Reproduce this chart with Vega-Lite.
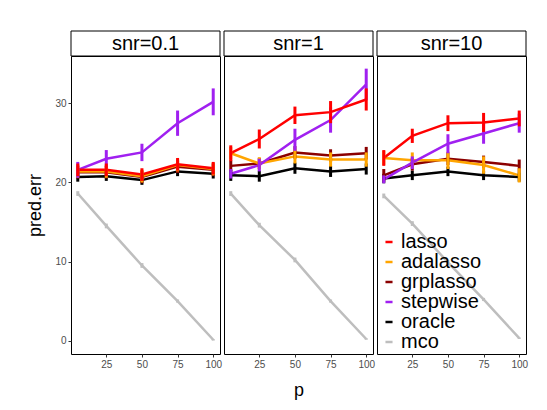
{
  "$schema": "https://vega.github.io/schema/vega-lite/v6.json",
  "padding": {"left": 26, "top": 30, "right": 5, "bottom": 5},
  "config": {
    "font": "Liberation Sans",
    "view": {"stroke": "black", "strokeWidth": 1},
    "concat": {"spacing": 0}
  },
  "datasets": {
    "d": [
      {"snr":"0.1","m":"mco","p":5,"y":18.6,"lo":18.3,"hi":18.9},
      {"snr":"0.1","m":"mco","p":25,"y":14.5,"lo":14.2,"hi":14.8},
      {"snr":"0.1","m":"mco","p":50,"y":9.5,"lo":9.2,"hi":9.8},
      {"snr":"0.1","m":"mco","p":75,"y":5.0,"lo":4.8,"hi":5.2},
      {"snr":"0.1","m":"mco","p":100,"y":0.1,"lo":0.0,"hi":0.2},
      {"snr":"0.1","m":"oracle","p":5,"y":20.7,"lo":20.1,"hi":21.3},
      {"snr":"0.1","m":"oracle","p":25,"y":20.8,"lo":20.2,"hi":21.4},
      {"snr":"0.1","m":"oracle","p":50,"y":20.3,"lo":19.7,"hi":20.9},
      {"snr":"0.1","m":"oracle","p":75,"y":21.4,"lo":20.8,"hi":22.0},
      {"snr":"0.1","m":"oracle","p":100,"y":21.1,"lo":20.5,"hi":21.7},
      {"snr":"0.1","m":"grplasso","p":5,"y":21.3,"lo":20.5,"hi":22.1},
      {"snr":"0.1","m":"grplasso","p":25,"y":21.3,"lo":20.5,"hi":22.1},
      {"snr":"0.1","m":"grplasso","p":50,"y":20.7,"lo":19.9,"hi":21.5},
      {"snr":"0.1","m":"grplasso","p":75,"y":22.0,"lo":21.2,"hi":22.8},
      {"snr":"0.1","m":"grplasso","p":100,"y":21.6,"lo":20.8,"hi":22.4},
      {"snr":"0.1","m":"adalasso","p":5,"y":21.4,"lo":20.6,"hi":22.2},
      {"snr":"0.1","m":"adalasso","p":25,"y":21.4,"lo":20.6,"hi":22.2},
      {"snr":"0.1","m":"adalasso","p":50,"y":20.8,"lo":20.0,"hi":21.6},
      {"snr":"0.1","m":"adalasso","p":75,"y":22.2,"lo":21.4,"hi":23.0},
      {"snr":"0.1","m":"adalasso","p":100,"y":21.7,"lo":20.9,"hi":22.5},
      {"snr":"0.1","m":"stepwise","p":5,"y":21.6,"lo":20.6,"hi":22.6},
      {"snr":"0.1","m":"stepwise","p":25,"y":23.0,"lo":21.9,"hi":24.1},
      {"snr":"0.1","m":"stepwise","p":50,"y":23.8,"lo":22.7,"hi":24.9},
      {"snr":"0.1","m":"stepwise","p":75,"y":27.5,"lo":25.9,"hi":29.1},
      {"snr":"0.1","m":"stepwise","p":100,"y":30.2,"lo":28.5,"hi":31.9},
      {"snr":"0.1","m":"lasso","p":5,"y":21.6,"lo":20.8,"hi":22.4},
      {"snr":"0.1","m":"lasso","p":25,"y":21.6,"lo":20.8,"hi":22.4},
      {"snr":"0.1","m":"lasso","p":50,"y":21.0,"lo":20.2,"hi":21.8},
      {"snr":"0.1","m":"lasso","p":75,"y":22.3,"lo":21.5,"hi":23.1},
      {"snr":"0.1","m":"lasso","p":100,"y":21.8,"lo":21.0,"hi":22.6},

      {"snr":"1","m":"mco","p":5,"y":18.6,"lo":18.3,"hi":18.9},
      {"snr":"1","m":"mco","p":25,"y":14.6,"lo":14.3,"hi":14.9},
      {"snr":"1","m":"mco","p":50,"y":10.2,"lo":9.9,"hi":10.5},
      {"snr":"1","m":"mco","p":75,"y":5.0,"lo":4.8,"hi":5.2},
      {"snr":"1","m":"mco","p":100,"y":0.2,"lo":0.1,"hi":0.3},
      {"snr":"1","m":"oracle","p":5,"y":20.9,"lo":20.2,"hi":21.6},
      {"snr":"1","m":"oracle","p":25,"y":20.8,"lo":20.1,"hi":21.5},
      {"snr":"1","m":"oracle","p":50,"y":21.8,"lo":21.1,"hi":22.5},
      {"snr":"1","m":"oracle","p":75,"y":21.4,"lo":20.7,"hi":22.1},
      {"snr":"1","m":"oracle","p":100,"y":21.7,"lo":21.0,"hi":22.4},
      {"snr":"1","m":"grplasso","p":5,"y":22.1,"lo":21.4,"hi":22.8},
      {"snr":"1","m":"grplasso","p":25,"y":22.4,"lo":21.7,"hi":23.1},
      {"snr":"1","m":"grplasso","p":50,"y":23.8,"lo":23.0,"hi":24.6},
      {"snr":"1","m":"grplasso","p":75,"y":23.4,"lo":22.6,"hi":24.2},
      {"snr":"1","m":"grplasso","p":100,"y":23.7,"lo":22.9,"hi":24.5},
      {"snr":"1","m":"adalasso","p":5,"y":23.7,"lo":22.9,"hi":24.5},
      {"snr":"1","m":"adalasso","p":25,"y":22.4,"lo":21.6,"hi":23.2},
      {"snr":"1","m":"adalasso","p":50,"y":23.3,"lo":22.4,"hi":24.2},
      {"snr":"1","m":"adalasso","p":75,"y":22.9,"lo":22.0,"hi":23.8},
      {"snr":"1","m":"adalasso","p":100,"y":22.9,"lo":22.0,"hi":23.8},
      {"snr":"1","m":"stepwise","p":5,"y":21.1,"lo":20.5,"hi":21.7},
      {"snr":"1","m":"stepwise","p":25,"y":22.2,"lo":21.4,"hi":23.0},
      {"snr":"1","m":"stepwise","p":50,"y":25.4,"lo":24.0,"hi":26.8},
      {"snr":"1","m":"stepwise","p":75,"y":27.9,"lo":26.3,"hi":29.5},
      {"snr":"1","m":"stepwise","p":100,"y":32.4,"lo":30.4,"hi":34.4},
      {"snr":"1","m":"lasso","p":5,"y":23.7,"lo":22.7,"hi":24.7},
      {"snr":"1","m":"lasso","p":25,"y":25.5,"lo":24.3,"hi":26.7},
      {"snr":"1","m":"lasso","p":50,"y":28.5,"lo":27.4,"hi":29.6},
      {"snr":"1","m":"lasso","p":75,"y":28.9,"lo":27.5,"hi":30.3},
      {"snr":"1","m":"lasso","p":100,"y":30.5,"lo":29.1,"hi":31.9},

      {"snr":"10","m":"mco","p":5,"y":18.3,"lo":18.0,"hi":18.6},
      {"snr":"10","m":"mco","p":25,"y":14.8,"lo":14.5,"hi":15.1},
      {"snr":"10","m":"mco","p":50,"y":9.9,"lo":9.6,"hi":10.2},
      {"snr":"10","m":"mco","p":75,"y":5.2,"lo":5.0,"hi":5.4},
      {"snr":"10","m":"mco","p":100,"y":0.3,"lo":0.2,"hi":0.4},
      {"snr":"10","m":"oracle","p":5,"y":20.5,"lo":19.9,"hi":21.1},
      {"snr":"10","m":"oracle","p":25,"y":20.9,"lo":20.3,"hi":21.5},
      {"snr":"10","m":"oracle","p":50,"y":21.4,"lo":20.8,"hi":22.0},
      {"snr":"10","m":"oracle","p":75,"y":20.9,"lo":20.3,"hi":21.5},
      {"snr":"10","m":"oracle","p":100,"y":20.7,"lo":20.1,"hi":21.3},
      {"snr":"10","m":"grplasso","p":5,"y":20.9,"lo":20.1,"hi":21.7},
      {"snr":"10","m":"grplasso","p":25,"y":22.3,"lo":21.5,"hi":23.1},
      {"snr":"10","m":"grplasso","p":50,"y":23.0,"lo":22.2,"hi":23.8},
      {"snr":"10","m":"grplasso","p":75,"y":22.6,"lo":21.8,"hi":23.4},
      {"snr":"10","m":"grplasso","p":100,"y":22.1,"lo":21.3,"hi":22.9},
      {"snr":"10","m":"adalasso","p":5,"y":23.1,"lo":22.2,"hi":24.0},
      {"snr":"10","m":"adalasso","p":25,"y":22.8,"lo":21.8,"hi":23.8},
      {"snr":"10","m":"adalasso","p":50,"y":22.8,"lo":21.7,"hi":23.9},
      {"snr":"10","m":"adalasso","p":75,"y":22.2,"lo":21.1,"hi":23.3},
      {"snr":"10","m":"adalasso","p":100,"y":20.9,"lo":20.0,"hi":21.8},
      {"snr":"10","m":"stepwise","p":5,"y":20.4,"lo":19.9,"hi":20.9},
      {"snr":"10","m":"stepwise","p":25,"y":22.5,"lo":21.7,"hi":23.3},
      {"snr":"10","m":"stepwise","p":50,"y":24.9,"lo":23.7,"hi":26.1},
      {"snr":"10","m":"stepwise","p":75,"y":26.2,"lo":24.9,"hi":27.5},
      {"snr":"10","m":"stepwise","p":100,"y":27.5,"lo":26.3,"hi":28.7},
      {"snr":"10","m":"lasso","p":5,"y":23.1,"lo":22.1,"hi":24.1},
      {"snr":"10","m":"lasso","p":25,"y":25.9,"lo":25.0,"hi":26.8},
      {"snr":"10","m":"lasso","p":50,"y":27.5,"lo":26.5,"hi":28.5},
      {"snr":"10","m":"lasso","p":75,"y":27.6,"lo":26.4,"hi":28.8},
      {"snr":"10","m":"lasso","p":100,"y":28.1,"lo":27.1,"hi":29.1}
    ]
  },
  "resolve": {"legend": {"color": "independent"}},
  "hconcat": [
    {
      "bounds": "flush",
      "spacing": 0,
      "resolve": {"legend": {"color": "independent"}},
      "vconcat": [
        {
          "width": 149, "height": 25,
          "view": {"stroke": null},
          "data": {"values": [{"t": "snr=0.1"}]},
          "layer": [
            {"mark": {"type": "rect", "fill": "white", "stroke": "black", "strokeWidth": 1, "cornerRadius": 0}, "encoding": {}},
            {"mark": {"type": "text", "fontSize": 20, "color": "black"}, "encoding": {"text": {"field": "t"}}}
          ]
        },
        {
          "width": 149, "height": 298,
          "data": {"name": "d"},
          "transform": [{"filter": "datum.snr === '0.1'"}],
          "encoding": {
            "x": {"field": "p", "type": "quantitative", "scale": {"domain": [0.25, 104.75], "nice": false, "zero": false},
                  "axis": {"values": [25, 50, 75, 100], "title": null, "labelFontSize": 10, "labelColor": "#4d4d4d", "tickColor": "#333333", "tickSize": 3, "grid": false, "domain": false, "labelPadding": 2}},
            "color": {"field": "m", "type": "nominal",
                      "scale": {"domain": ["lasso", "adalasso", "grplasso", "stepwise", "oracle", "mco"], "range": ["#FF0000", "#FFA500", "#8B0000", "#A020F0", "#000000", "#BEBEBE"]},
                      "legend": null}
          },
          "layer": [
            {"mark": {"type": "line", "strokeWidth": 2.5},
             "encoding": {"y": {"field": "y", "type": "quantitative", "scale": {"domain": [-1.7, 36], "nice": false, "zero": false},
                                "axis": {"values": [0, 10, 20, 30], "title": "pred.err", "titleFontSize": 18, "titleFontWeight": "normal", "titleColor": "black", "titlePadding": 10, "labelFontSize": 10, "labelColor": "#4d4d4d", "tickColor": "#333333", "tickSize": 3, "grid": false, "domain": false, "labelPadding": 2}}}},
            {"mark": {"type": "rule", "strokeWidth": 3},
             "encoding": {"y": {"field": "lo", "type": "quantitative"}, "y2": {"field": "hi"}}}
          ]
        }
      ]
    },
    {
      "bounds": "flush",
      "spacing": 0,
      "resolve": {"legend": {"color": "independent"}},
      "vconcat": [
        {
          "width": 149, "height": 25,
          "view": {"stroke": null},
          "data": {"values": [{"t": "snr=1"}]},
          "layer": [
            {"mark": {"type": "rect", "fill": "white", "stroke": "black", "strokeWidth": 1, "cornerRadius": 0}, "encoding": {}},
            {"mark": {"type": "text", "fontSize": 20, "color": "black"}, "encoding": {"text": {"field": "t"}}}
          ]
        },
        {
          "width": 149, "height": 298,
          "data": {"name": "d"},
          "transform": [{"filter": "datum.snr === '1'"}],
          "encoding": {
            "x": {"field": "p", "type": "quantitative", "scale": {"domain": [0.25, 104.75], "nice": false, "zero": false},
                  "axis": {"values": [25, 50, 75, 100], "title": "p", "titleFontSize": 18, "titleFontWeight": "normal", "titleColor": "black", "titlePadding": 12, "labelFontSize": 10, "labelColor": "#4d4d4d", "tickColor": "#333333", "tickSize": 3, "grid": false, "domain": false, "labelPadding": 2}},
            "color": {"field": "m", "type": "nominal",
                      "scale": {"domain": ["lasso", "adalasso", "grplasso", "stepwise", "oracle", "mco"], "range": ["#FF0000", "#FFA500", "#8B0000", "#A020F0", "#000000", "#BEBEBE"]},
                      "legend": null}
          },
          "layer": [
            {"mark": {"type": "line", "strokeWidth": 2.5},
             "encoding": {"y": {"field": "y", "type": "quantitative", "scale": {"domain": [-1.7, 36], "nice": false, "zero": false}, "axis": null}}},
            {"mark": {"type": "rule", "strokeWidth": 3},
             "encoding": {"y": {"field": "lo", "type": "quantitative"}, "y2": {"field": "hi"}}}
          ]
        }
      ]
    },
    {
      "bounds": "flush",
      "spacing": 0,
      "resolve": {"legend": {"color": "independent"}},
      "vconcat": [
        {
          "width": 149, "height": 25,
          "view": {"stroke": null},
          "data": {"values": [{"t": "snr=10"}]},
          "layer": [
            {"mark": {"type": "rect", "fill": "white", "stroke": "black", "strokeWidth": 1, "cornerRadius": 0}, "encoding": {}},
            {"mark": {"type": "text", "fontSize": 20, "color": "black"}, "encoding": {"text": {"field": "t"}}}
          ]
        },
        {
          "width": 149, "height": 298,
          "data": {"name": "d"},
          "transform": [{"filter": "datum.snr === '10'"}],
          "encoding": {
            "x": {"field": "p", "type": "quantitative", "scale": {"domain": [0.25, 104.75], "nice": false, "zero": false},
                  "axis": {"values": [25, 50, 75, 100], "title": null, "labelFontSize": 10, "labelColor": "#4d4d4d", "tickColor": "#333333", "tickSize": 3, "grid": false, "domain": false, "labelPadding": 2}},
            "color": {"field": "m", "type": "nominal",
                      "scale": {"domain": ["lasso", "adalasso", "grplasso", "stepwise", "oracle", "mco"], "range": ["#FF0000", "#FFA500", "#8B0000", "#A020F0", "#000000", "#BEBEBE"]},
                      "legend": {"orient": "bottom-left", "title": null, "symbolType": "stroke", "symbolSize": 50, "symbolStrokeWidth": 2.5, "labelFontSize": 20, "labelColor": "black", "rowPadding": 0, "offset": 2, "padding": 0, "labelOffset": 2}}
          },
          "layer": [
            {"mark": {"type": "line", "strokeWidth": 2.5},
             "encoding": {"y": {"field": "y", "type": "quantitative", "scale": {"domain": [-1.7, 36], "nice": false, "zero": false}, "axis": null}}},
            {"mark": {"type": "rule", "strokeWidth": 3},
             "encoding": {"y": {"field": "lo", "type": "quantitative"}, "y2": {"field": "hi"}}}
          ]
        }
      ]
    }
  ]
}
